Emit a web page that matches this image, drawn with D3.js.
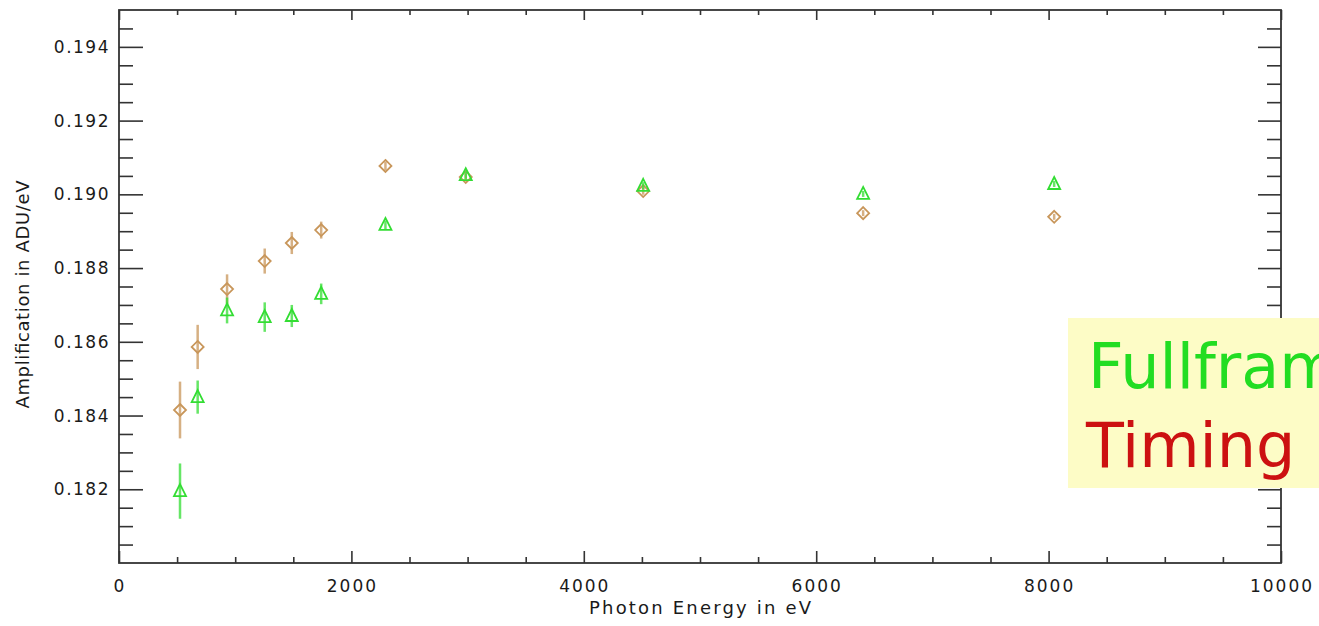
<!DOCTYPE html>
<html>
<head>
<meta charset="utf-8">
<script src="https://cdn.jsdelivr.net/npm/d3@7"></script>
<style>
  body { margin: 0; background: #fff; }
  text { font-family: "DejaVu Sans", sans-serif; }
</style>
</head>
<body>
<svg width="1319" height="626"></svg>
<script>
// photon energies of the calibration lines (eV)
const energy = [525, 677, 930, 1254, 1487, 1740, 2293, 2984, 4511, 6404, 8048];
// timing mode amplification and errors
const timing = [0.18415, 0.18586, 0.18743, 0.18819, 0.18868, 0.18903, 0.19077, 0.19047, 0.19009, 0.18949, 0.18939];
const timingErr = [0.00077, 0.0006, 0.0004, 0.00034, 0.0003, 0.00023, 0.00012, 0.0001, 0.0001, 0.00008, 0.00008];
// fullframe mode amplification and errors
const fullframe = [0.18195, 0.18450, 0.18685, 0.18667, 0.18670, 0.18730, 0.18917, 0.19052, 0.19023, 0.19001, 0.19028];
const fullErr = [0.00075, 0.00045, 0.00035, 0.0004, 0.0003, 0.00028, 0.00012, 0.0001, 0.0001, 0.00008, 0.00008];

const xMajor = [0, 2000, 4000, 6000, 8000, 10000];
const yMajor = [0.182, 0.184, 0.186, 0.188, 0.190, 0.192, 0.194];
const legendLabels = ["Fullframe", "Timing"];

const pLeft = 119, pRight = 1281, pTop = 10, pBottom = 563;
const x = d3.scaleLinear().domain([0, 10000]).range([pLeft, pRight]);
const y = d3.scaleLinear().domain([0.180, 0.195]).range([pBottom, pTop]);

const xMinor = d3.range(0, 10001, 500).filter(v => v % 2000 !== 0);
const yMinor = d3.range(0, 31).map(i => 0.180 + i * 0.0005)
    .filter(v => !yMajor.some(m => Math.abs(m - v) < 1e-7) && v > 0.1801 && v < 0.1949);

const svg = d3.select("svg");
const axisColor = "#333";

// ticks on all four sides, pointing inward
function ticks(axis, vals, size) {
    return g => g.call(axis.tickValues(vals).tickSize(size).tickFormat(""))
        .call(g => g.select(".domain").remove())
        .call(g => g.selectAll("line").attr("stroke", axisColor).attr("stroke-width", 1.6));
}
svg.append("g").attr("transform", `translate(0,${pBottom})`).call(ticks(d3.axisBottom(x), xMajor, -12));
svg.append("g").attr("transform", `translate(0,${pBottom})`).call(ticks(d3.axisBottom(x), xMinor, -6));
svg.append("g").attr("transform", `translate(0,${pTop})`).call(ticks(d3.axisTop(x), xMajor, -10));
svg.append("g").attr("transform", `translate(0,${pTop})`).call(ticks(d3.axisTop(x), xMinor, -5));
svg.append("g").attr("transform", `translate(${pLeft},0)`).call(ticks(d3.axisLeft(y), yMajor, -24));
svg.append("g").attr("transform", `translate(${pLeft},0)`).call(ticks(d3.axisLeft(y), yMinor, -14));
svg.append("g").attr("transform", `translate(${pRight},0)`).call(ticks(d3.axisRight(y), yMajor, -23));
svg.append("g").attr("transform", `translate(${pRight},0)`).call(ticks(d3.axisRight(y), yMinor, -14));

svg.append("rect")
    .attr("x", pLeft).attr("y", pTop)
    .attr("width", pRight - pLeft).attr("height", pBottom - pTop)
    .attr("fill", "none").attr("stroke", axisColor).attr("stroke-width", 1.8);

// tick labels
svg.append("g").selectAll("text").data(xMajor).join("text")
    .attr("x", d => x(d) + 1).attr("y", 592)
    .attr("text-anchor", "middle")
    .attr("font-size", 17).attr("letter-spacing", 2).attr("fill", "#1a1a1a")
    .text(d => d);
svg.append("g").selectAll("text").data(yMajor).join("text")
    .attr("x", 110).attr("y", d => y(d) + 6)
    .attr("text-anchor", "end")
    .attr("font-size", 17).attr("letter-spacing", 1.5).attr("fill", "#1a1a1a")
    .text(d => d3.format(".3f")(d));

svg.append("text")
    .attr("x", (pLeft + pRight) / 2).attr("y", 614)
    .attr("text-anchor", "middle").attr("font-size", 18).attr("fill", "#1a1a1a")
    .attr("textLength", 222).attr("lengthAdjust", "spacing")
    .text("Photon Energy in eV");
svg.append("text")
    .attr("transform", `translate(29,${(pTop + pBottom) / 2 + 8}) rotate(-90)`)
    .attr("text-anchor", "middle").attr("font-size", 18).attr("fill", "#1a1a1a")
    .attr("textLength", 228).attr("lengthAdjust", "spacing")
    .text("Amplification in ADU/eV");

// series
const series = [
    {vals: timing, err: timingErr, color: "#c8965a", shape: "diamond"},
    {vals: fullframe, err: fullErr, color: "#33dd33", shape: "triangle"}
];
const diamond = "M0,-6L6,0L0,6L-6,0Z";
const triangle = "M0,-7L6,5L-6,5Z";

for (const s of series) {
    const pts = energy.map((e, i) => ({e, v: s.vals[i], err: s.err[i]}));
    const g = svg.append("g");
    g.selectAll("line").data(pts).join("line")
        .attr("x1", d => x(d.e)).attr("x2", d => x(d.e))
        .attr("y1", d => y(d.v + d.err)).attr("y2", d => y(d.v - d.err))
        .attr("stroke", s.color).attr("stroke-width", 2.5).attr("stroke-opacity", 0.75);
    g.selectAll("path").data(pts).join("path")
        .attr("d", s.shape === "diamond" ? diamond : triangle)
        .attr("transform", d => `translate(${x(d.e)},${y(d.v)})`)
        .attr("fill", "none").attr("stroke", s.color).attr("stroke-width", 1.8);
}

// legend box (runs off the right edge, as in the source)
svg.append("rect")
    .attr("x", 1068).attr("y", 318).attr("width", 260).attr("height", 170)
    .attr("fill", "#fdfcc6");
svg.append("text")
    .attr("x", 1088).attr("y", 388).attr("font-size", 62).attr("fill", "#22dd22")
    .text(legendLabels[0]);
svg.append("text")
    .attr("x", 1086).attr("y", 467).attr("font-size", 62).attr("fill", "#cc1111")
    .text(legendLabels[1]);
</script>
</body>
</html>
